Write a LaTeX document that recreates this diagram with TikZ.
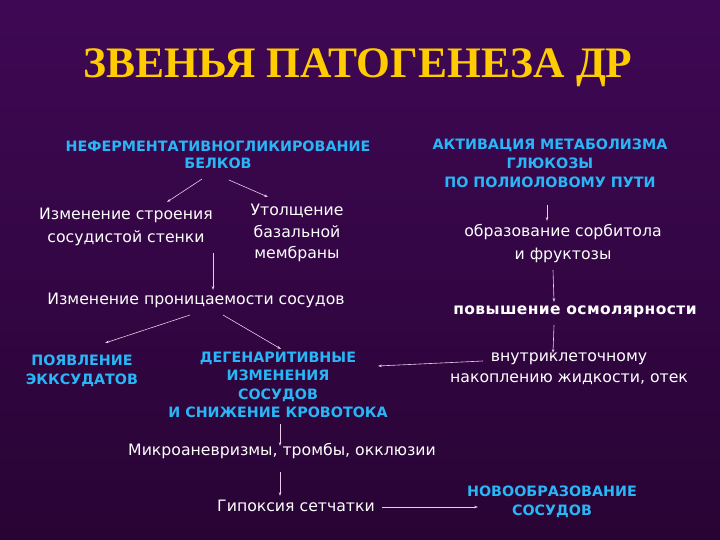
\documentclass[tikz,border=0pt]{standalone}
\usepackage{fontspec}
\setmainfont{DejaVu Sans}
\newfontfamily\titlefont{Liberation Serif}
\newfontfamily\osmfont[LetterSpace=2.5]{DejaVu Sans}
\usepackage{xcolor}
\usetikzlibrary{arrows.meta}
\definecolor{bgtop}{RGB}{63,8,84}
\definecolor{bgbot}{RGB}{40,4,52}
\definecolor{titlegold}{RGB}{255,204,0}
\definecolor{headblue}{RGB}{41,182,246}
\definecolor{arrowpink}{RGB}{232,204,236}

\begin{document}
\begin{tikzpicture}[x=1pt,y=-1pt,
	head/.style={text=headblue,font=\fontsize{14.3}{18.5}\selectfont\bfseries,align=center,inner sep=0pt},
	plain/.style={text=white,font=\fontsize{15.7}{22}\selectfont,align=center,inner sep=0pt},
	arr/.style={-{Stealth[length=4pt,width=2.6pt]},draw=arrowpink,line width=0.6pt}]

	\shade[top color=bgtop,bottom color=bgbot] (0,0) rectangle (720,540);
	\useasboundingbox (0,0) rectangle (720,540);

	\node[text=titlegold,font=\titlefont\fontsize{43.5}{48}\selectfont\bfseries,inner sep=0pt] (title) at (358,68) {ЗВЕНЬЯ ПАТОГЕНЕЗА ДР};

	% left branch
	\node[head,font=\fontsize{14.3}{17}\selectfont\bfseries] (glyc) at (218,155) {НЕФЕРМЕНТАТИВНОГЛИКИРОВАНИЕ\\БЕЛКОВ};
	\node[plain,font=\fontsize{15.7}{23}\selectfont] (wall) at (126,227) {Изменение строения\\сосудистой стенки};
	\node[plain,font=\fontsize{15.7}{21.5}\selectfont] (memb) at (297,233) {Утолщение\\базальной\\мембраны};
	\node[plain] (perm) at (196,300) {Изменение проницаемости сосудов};
	\node[head,font=\fontsize{14.3}{19}\selectfont\bfseries] (exud) at (82,371) {ПОЯВЛЕНИЕ\\ЭККСУДАТОВ};
	\node[head] (degen) at (278,385) {ДЕГЕНАРИТИВНЫЕ\\ИЗМЕНЕНИЯ\\СОСУДОВ\\И СНИЖЕНИЕ КРОВОТОКА};
	\node[plain] (micro) at (282,451) {Микроаневризмы, тромбы, окклюзии};
	\node[plain] (hypox) at (296,506) {Гипоксия сетчатки};
	\node[head] (neo) at (552,502) {НОВООБРАЗОВАНИЕ\\СОСУДОВ};

	% right branch
	\node[head,font=\fontsize{14.3}{19}\selectfont\bfseries] (polyol) at (550,163) {АКТИВАЦИЯ МЕТАБОЛИЗМА\\ГЛЮКОЗЫ\\ПО ПОЛИОЛОВОМУ ПУТИ};
	\node[plain,font=\fontsize{15.7}{23}\selectfont] (sorb) at (563,244) {образование сорбитола\\и фруктозы};
	\node[text=white,font=\osmfont\fontsize{15.5}{18}\selectfont\bfseries,inner sep=0pt] (osm) at (575,312) {повышение осмолярности};
	\node[plain,font=\fontsize{15.7}{21}\selectfont] (edema) at (569,369) {внутриклеточному\\накоплению жидкости, отек};

\draw[arr]([shift={(-16,24)}]glyc.center) -- ([shift={(41,-25)}]wall.center);
\draw[arr]([shift={(11,25)}]glyc.center) -- ([shift={(-29,-36)}]memb.center);
\draw[arr]([shift={(87,26)}]wall.center) -- ([shift={(17,-10)}]perm.center);
\draw[arr]([shift={(-6,15)}]perm.center) -- ([shift={(23,-28)}]exud.center);
\draw[arr]([shift={(27,15)}]perm.center) -- ([shift={(3,-36)}]degen.center);
\draw[arr]([shift={(-3,42)}]polyol.center) -- ([shift={(-16,-23)}]sorb.center);
\draw[arr]([shift={(-10,26)}]sorb.center) -- ([shift={(-21,-10)}]osm.center);
\draw[arr]([shift={(-21,13)}]osm.center) -- ([shift={(-16,-16)}]edema.center);
\draw[arr]([shift={(-86,-8)}]edema.center) -- ([shift={(100,-19)}]degen.center);
\draw[arr]([shift={(2,39)}]degen.center) -- ([shift={(-2,-5)}]micro.center);
\draw[arr]([shift={(-2,21)}]micro.center) -- ([shift={(-16,-10)}]hypox.center);
\draw[arr]([shift={(86,1)}]hypox.center) -- ([shift={(-74,5)}]neo.center);

\end{tikzpicture}
\end{document}
